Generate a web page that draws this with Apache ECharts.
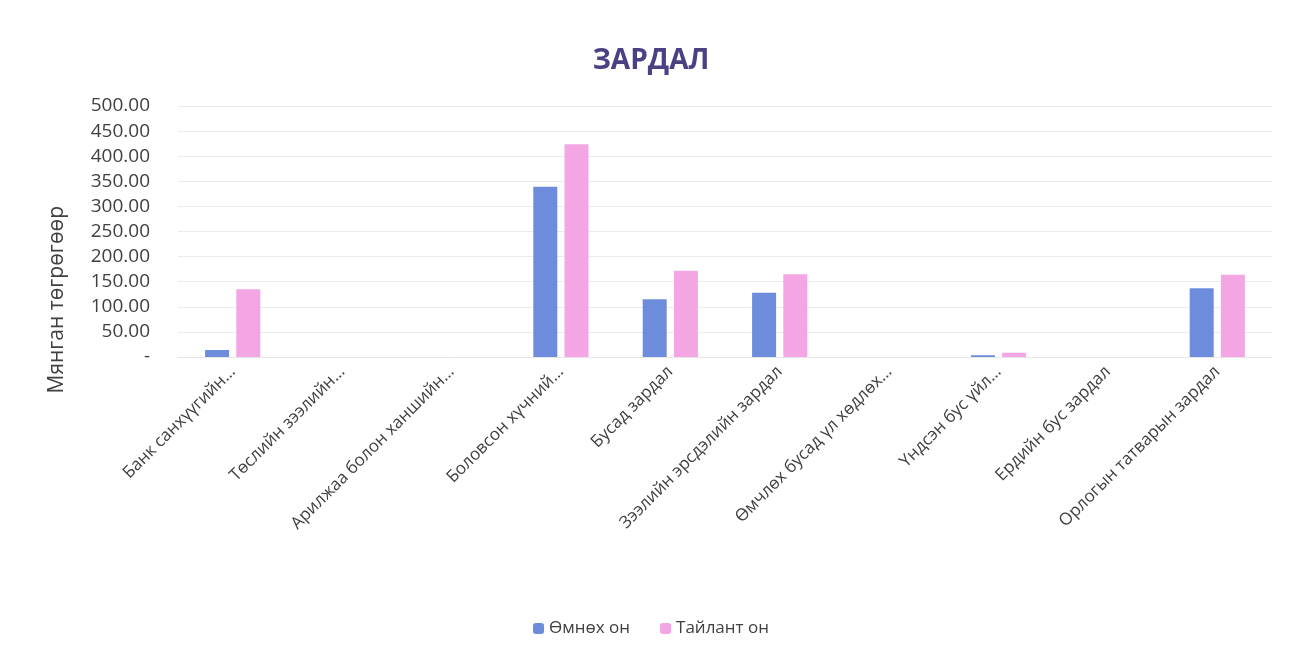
<!DOCTYPE html>
<html><head><meta charset="utf-8">
<script src="https://cdn.jsdelivr.net/npm/echarts@6/dist/echarts.min.js"></script>
<style>html,body{margin:0;padding:0;background:#fff}#c{width:1302px;height:658px}</style>
</head><body><div id="c"></div>
<script>
const categories = ['Банк санхүүгийн…','Төслийн зээлийн…','Арилжаа болон ханшийн…','Боловсон хүчний…','Бусад зардал','Зээлийн эрсдэлийн зардал','Өмчлөх бусад үл хөдлөх…','Үндсэн бус үйл…','Ердийн бус зардал','Орлогын татварын зардал'];
const prevYear = [14, 0, 0, 339, 115, 128, 0, 3.5, 0, 137];
const curYear = [135, 0, 0, 424, 172, 165, 0, 8.5, 0, 164];
const seriesNames = ['Өмнөх он','Тайлант он'];
const chart = echarts.init(document.getElementById('c'));
const font = 'Open Sans';
chart.setOption({
  backgroundColor:'#fff',
  title:{text:'ЗАРДАЛ',left:'center',top:42,textStyle:{fontFamily:font,fontSize:28,fontWeight:'bold',color:'#4a4184'}},
  legend:{bottom:16,left:'center',itemWidth:11,itemHeight:11,itemGap:30,textStyle:{fontFamily:font,fontSize:17,color:'#404040'},data:seriesNames},
  grid:{left:178,right:30,top:106,bottom:301,containLabel:false},
  graphic:[{type:'text',left:47,top:206,rotation:Math.PI/2,style:{text:'Мянган төгрөгөөр',font:'21px "Open Sans"',fill:'#404040'}}],
  xAxis:{type:'category',data:categories,
    axisLine:{show:true,lineStyle:{color:'#e6e6e6'}},axisTick:{show:false},
    axisLabel:{interval:0,rotate:45,fontFamily:font,fontSize:17,color:'#404040',margin:12,padding:[0,0,0,0]}},
  yAxis:{type:'value',min:0,max:500,interval:50,
    axisLine:{show:false},axisTick:{show:false},
    splitLine:{lineStyle:{color:'#ebebeb'}},
    axisLabel:{fontFamily:font,fontSize:19,color:'#404040',margin:28,
      formatter:v=>v===0?'-':v.toFixed(2)}},
  series:[
    {name:seriesNames[0],type:'bar',data:prevYear,barWidth:24,barGap:'30%',itemStyle:{color:'#6d8cdc'}},
    {name:seriesNames[1],type:'bar',data:curYear,barWidth:24,itemStyle:{color:'#f3a6e3'}}
  ]
});
</script></body></html>
